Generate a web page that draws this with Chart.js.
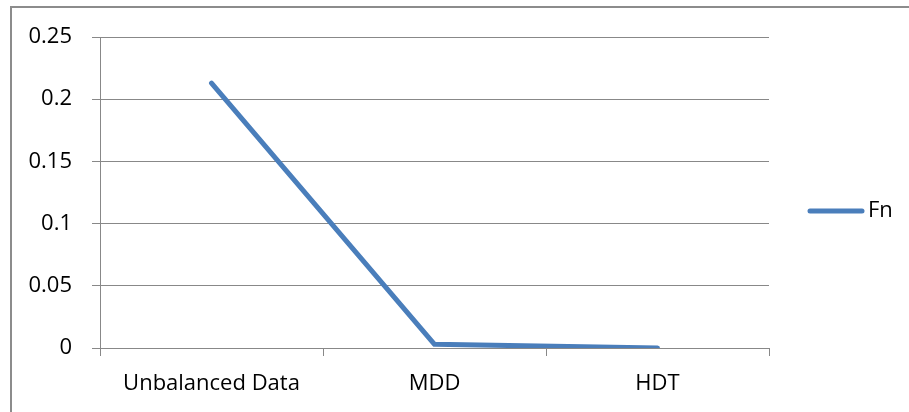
<!DOCTYPE html>
<html>
<head>
<meta charset="utf-8">
<script src="https://cdn.jsdelivr.net/npm/chart.js@4.4.1/dist/chart.umd.min.js"></script>
<style>
    html, body { margin: 0; padding: 0; background: #fff; }
    #wrap { position: relative; width: 909px; height: 412px; overflow: hidden; }
    #frame { position: absolute; left: 10px; top: 6px; width: 1000px; height: 1000px;
             border-left: 2px solid #8c8c8c; border-top: 2px solid #8c8c8c; }
    canvas { position: absolute; left: 0; top: 0; }
</style>
</head>
<body>
<div id="wrap">
    <div id="frame"></div>
    <canvas id="chart" width="909" height="412"></canvas>
</div>
<script>
const categories = ['Unbalanced Data', 'MDD', 'HDT'];
const fnValues = [0.213, 0.003, 0.0];
const yTicks = [0, 0.05, 0.1, 0.15, 0.2, 0.25];

const GRID = '#888888';
const BLUE = '#4a7ebb';
const FONT = { family: '"Open Sans"', size: 22 };

// legend drawn by hand so the chart area stays where the original has it
const sideLegend = {
    id: 'sideLegend',
    afterDraw(chart) {
        const ctx = chart.ctx;
        const ds = chart.data.datasets[0];
        const y = 211;
        ctx.save();
        ctx.strokeStyle = ds.borderColor;
        ctx.lineWidth = 5;
        ctx.lineCap = 'round';
        ctx.beginPath();
        ctx.moveTo(810, y);
        ctx.lineTo(862, y);
        ctx.stroke();
        ctx.fillStyle = '#000';
        ctx.font = FONT.size + 'px ' + FONT.family;
        ctx.textBaseline = 'middle';
        ctx.fillText(ds.label, 868, y);
        ctx.restore();
    }
};

new Chart(document.getElementById('chart'), {
    type: 'line',
    data: {
        labels: categories,
        datasets: [{
            label: 'Fn',
            data: fnValues,
            borderColor: BLUE,
            backgroundColor: BLUE,
            borderWidth: 5,
            borderCapStyle: 'round',
            borderJoinStyle: 'round',
            pointRadius: 0,
            tension: 0
        }]
    },
    options: {
        responsive: false,
        animation: false,
        layout: { padding: { top: 37, right: 140, left: 0, bottom: 0 } },
        plugins: { legend: { display: false }, tooltip: { enabled: false } },
        scales: {
            x: {
                offset: true,
                grid: { offset: true, drawOnChartArea: false, tickLength: 8, color: GRID },
                border: { color: GRID },
                ticks: { color: '#000', font: FONT, padding: 15, maxRotation: 0 },
                afterFit(scale) { scale.height = 64; }
            },
            y: {
                min: 0,
                max: 0.25,
                afterBuildTicks(scale) { scale.ticks = yTicks.map(v => ({ value: v })); },
                grid: { color: GRID, tickLength: 8 },
                border: { color: GRID },
                ticks: {
                    color: '#000',
                    font: FONT,
                    padding: 20,
                    callback: v => String(+v.toFixed(2))
                },
                afterFit(scale) { scale.width = 100; }
            }
        }
    },
    plugins: [sideLegend]
});
</script>
</body>
</html>
